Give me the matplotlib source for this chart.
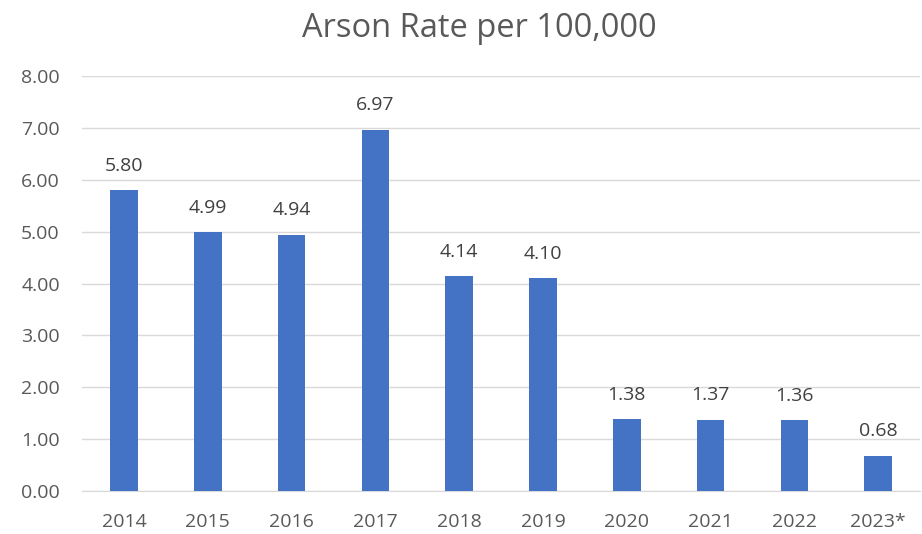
import matplotlib
matplotlib.use("Agg")
from matplotlib import pyplot as plt

years = ['2014', '2015', '2016', '2017', '2018', '2019', '2020', '2021', '2022', '2023*']
rates = [5.80, 4.99, 4.94, 6.97, 4.14, 4.10, 1.38, 1.37, 1.36, 0.68]
yticks = [0, 1, 2, 3, 4, 5, 6, 7, 8]

plt.rcParams['font.family'] = ['Open Sans', 'DejaVu Sans']
text_color = '#595959'

fig = plt.figure(figsize=(9.22, 5.34), dpi=100)
ax = fig.add_axes([0.089, 0.0805, 0.909, 0.777])

x = range(len(years))
ax.bar(x, rates, width=0.33, color='#4472C4', zorder=3)

# value labels above bars
for i, v in enumerate(rates):
    ax.text(i, v + 0.3, '{:.2f}'.format(v), ha='center', va='bottom',
            fontsize=14, color='#404040')

ax.set_xlim(-0.5, len(years) - 0.5)
ax.set_ylim(0, 8)
ax.set_yticks(yticks)
ax.set_yticklabels(['{:.2f}'.format(t) for t in yticks])
ax.set_xticks(list(x))
ax.set_xticklabels(years)
ax.tick_params(axis='both', length=0, labelsize=14, labelcolor=text_color, pad=16)
ax.grid(axis='y', color='#D9D9D9', linewidth=1, zorder=0)
for side in ['top', 'right', 'left']:
    ax.spines[side].set_visible(False)
ax.spines['bottom'].set_color('#D9D9D9')

fig.text(0.52, 1 - 37 / 534, 'Arson Rate per 100,000', fontsize=23.5,
         color=text_color, ha='center', va='baseline')

plt.savefig('out.png', dpi=100)
